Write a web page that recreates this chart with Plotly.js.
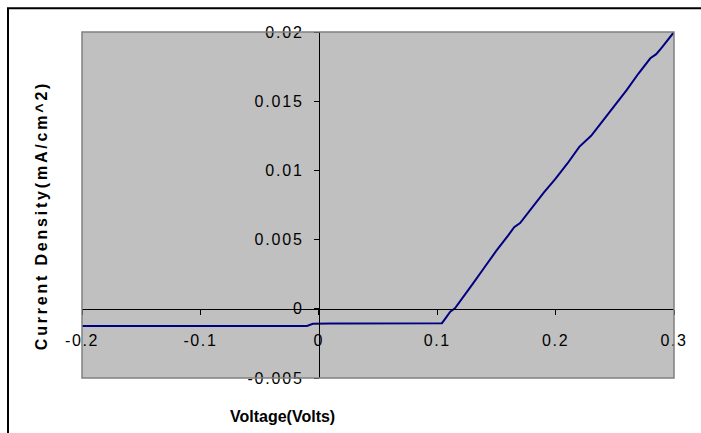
<!DOCTYPE html>
<html>
<head>
<meta charset="utf-8">
<script src="https://cdn.plot.ly/plotly-3.0.1.min.js"></script>
<style>
  html, body { margin: 0; padding: 0; background: #ffffff; }
  #chart { width: 701px; height: 433px; }
</style>
</head>
<body>
<div id="chart"></div>
<script>
// Data
const voltage = [-0.20,-0.19,-0.18,-0.17,-0.16,-0.15,-0.14,-0.13,-0.12,-0.11,
  -0.10,-0.09,-0.08,-0.07,-0.06,-0.05,-0.04,-0.03,-0.02,-0.01,-0.005,
  0.00,0.01,0.02,0.03,0.04,0.05,0.06,0.07,0.08,0.09,0.10,
  0.104,0.107,0.111,0.115,0.12,0.13,0.14,0.15,0.16,0.165,0.17,0.18,0.19,
  0.20,0.21,0.22,0.225,0.23,0.24,0.25,0.255,0.26,0.27,0.28,0.285,0.29,0.30];
const currentDensity = [-0.00124,-0.00124,-0.00124,-0.00124,-0.00124,-0.00124,-0.00124,-0.00124,-0.00124,-0.00124,
  -0.00124,-0.00124,-0.00124,-0.00124,-0.00124,-0.00124,-0.00124,-0.00124,-0.00124,-0.00124,-0.00108,
  -0.00106,-0.00106,-0.00106,-0.00106,-0.00106,-0.00106,-0.00106,-0.00106,-0.00106,-0.00106,-0.00106,
  -0.00104,-0.00069,-0.00021,0.00003,0.0006,0.0018,0.0030,0.0042,0.0053,0.0059,0.0062,0.0073,0.0084,
  0.0094,0.0105,0.0117,0.0121,0.0125,0.0136,0.0147,0.0152,0.0158,0.0170,0.0181,0.0184,0.0189,0.0200];

const xTickVals = [-0.2,-0.1,0,0.1,0.2,0.3];
const xTickText = ["-0.2","-0.1","0","0.1","0.2","0.3"];
const yTickVals = [-0.005,0,0.005,0.01,0.015,0.02];
const yTickText = ["-0.005","0","0.005","0.01","0.015","0.02"];

const xTitle = "Voltage(Volts)";
const yTitle = "Current Density(mA/cm^2)";

const FONT = "Liberation Sans, Arial, sans-serif";

// wider character spacing, like the reference rendering
const spaced = (t, px) => '<span style="letter-spacing:' + px + 'px">' + t + '</span>';

const trace = {
  x: voltage,
  y: currentDensity,
  type: "scatter",
  mode: "lines",
  line: { color: "#000080", width: 2 },
  hoverinfo: "skip",
  showlegend: false
};

const xr = [-0.2, 0.3];
const yr = [-0.005, 0.02];

const layout = {
  width: 701,
  height: 433,
  margin: { l: 82, r: 27, t: 32, b: 55, pad: 0 },
  paper_bgcolor: "#ffffff",
  plot_bgcolor: "#C0C0C0",
  font: { family: FONT, size: 16, color: "#000000" },
  showlegend: false,
  xaxis: {
    range: xr,
    anchor: "free",
    position: (0 - yr[0]) / (yr[1] - yr[0]),
    tickmode: "array",
    tickvals: xTickVals,
    ticktext: xTickText.map(t => spaced(t, 1.6)),
    ticks: "outside",
    ticklen: 5,
    tickwidth: 1,
    tickcolor: "#000000",
    showline: true,
    linecolor: "#000000",
    linewidth: 1,
    showgrid: false,
    zeroline: false,
    ticklabelstandoff: 12,
    tickfont: { family: FONT, size: 16, color: "#000000" },
    fixedrange: true
  },
  yaxis: {
    range: yr,
    anchor: "free",
    position: (0 - xr[0]) / (xr[1] - xr[0]),
    tickmode: "array",
    tickvals: yTickVals,
    ticktext: yTickText.map(t => spaced(t, 1.8)),
    ticks: "outside",
    ticklen: 5,
    tickwidth: 1,
    tickcolor: "#000000",
    showline: true,
    linecolor: "#000000",
    linewidth: 1,
    showgrid: false,
    zeroline: false,
    ticklabelstandoff: 7,
    tickfont: { family: FONT, size: 16, color: "#000000" },
    fixedrange: true
  },
  shapes: [
    { type: "rect", xref: "paper", yref: "paper", x0: 0, x1: 1, y0: 0, y1: 1,
      line: { color: "#808080", width: 1.5 }, fillcolor: "rgba(0,0,0,0)", layer: "above" },
    { type: "rect", xref: "paper", yref: "paper", x0: -0.125, x1: 1.3, y0: -0.4, y1: 1.069,
      line: { color: "#000000", width: 2 }, fillcolor: "rgba(0,0,0,0)", layer: "above" }
  ],
  annotations: [
    { text: xTitle, xref: "paper", yref: "paper", x: 0.338, y: -0.11,
      xanchor: "center", yanchor: "middle", showarrow: false,
      font: { family: FONT, size: 16, color: "#000000", weight: "bold" } },
    { text: spaced(yTitle, 2.8), xref: "paper", yref: "paper", x: -0.069, y: 0.468,
      xanchor: "center", yanchor: "middle", showarrow: false, textangle: -90,
      font: { family: FONT, size: 16, color: "#000000", weight: "bold" } }
  ]
};

Plotly.newPlot("chart", [trace], layout, { displayModeBar: false, staticPlot: true });
</script>
</body>
</html>
